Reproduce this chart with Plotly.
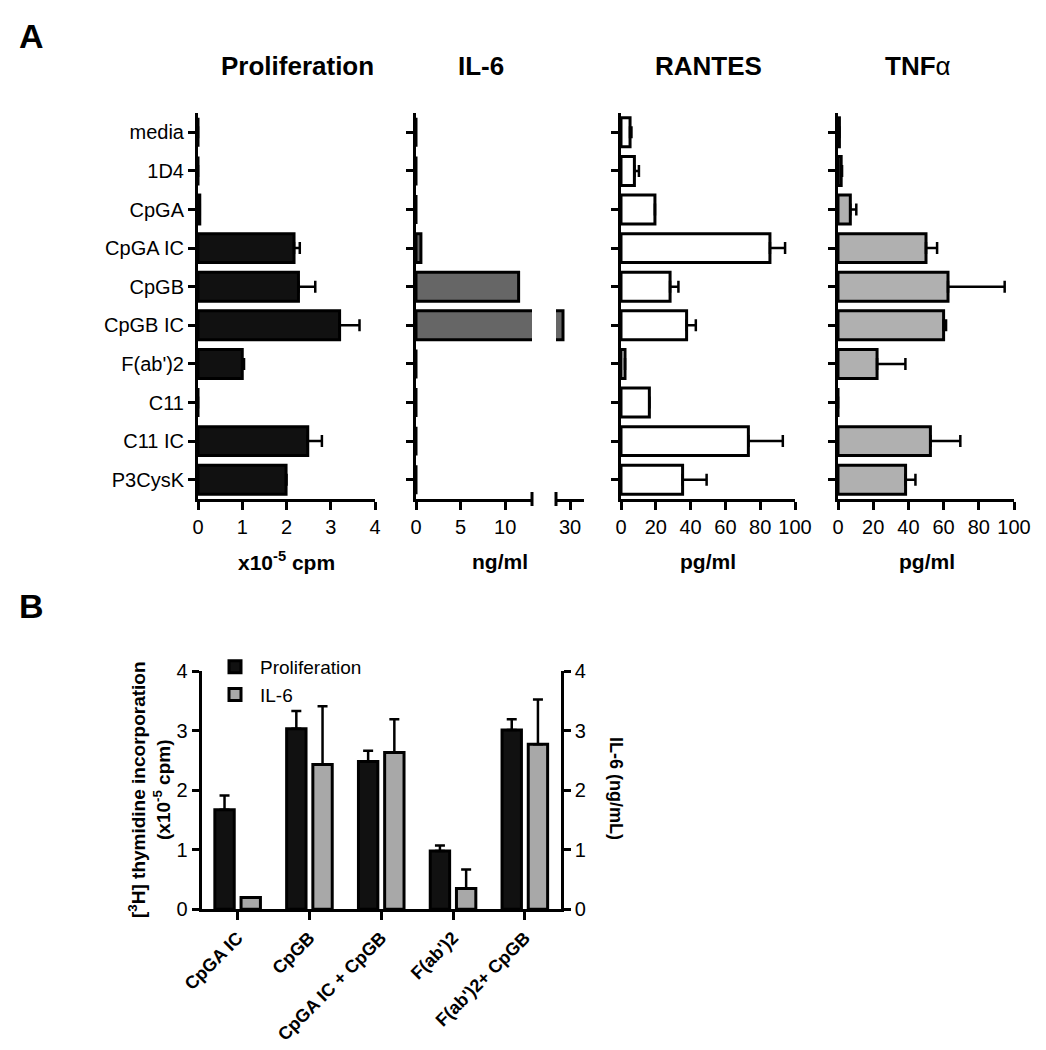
import plotly.graph_objects as go

W, H = 1046, 1050
FONT = "Arial, Liberation Sans, Helvetica, sans-serif"
OFF = 8  # page body margin

# ---------------- Data: panel A ----------------
categories = ["media", "1D4", "CpGA", "CpGA IC", "CpGB", "CpGB IC",
              "F(ab')2", "C11", "C11 IC", "P3CysK"]
prolif = [0.0, 0.0, 0.04, 2.17, 2.27, 3.20, 1.00, 0.0, 2.48, 1.99]
prolif_err = [0, 0, 0, 0.13, 0.38, 0.45, 0.04, 0, 0.32, 0.01]
il6 = [0.0, 0.0, 0.0, 0.55, 11.5, 27.5, 0.0, 0.0, 0.0, 0.0]
rantes = [5.2, 7.7, 19.5, 85.6, 28.2, 37.7, 2.3, 16.3, 73.2, 35.4]
rantes_err = [0.8, 2.6, 0, 8.7, 4.8, 5.3, 0, 0, 19.8, 13.8]
tnf = [0.8, 1.8, 7.0, 50.0, 62.5, 60.0, 22.2, 0.0, 52.5, 38.4]
tnf_err = [0, 0.5, 3.4, 6.3, 32.2, 1.4, 16.1, 0, 17.0, 5.6]

prolif_ticks = [0, 1, 2, 3, 4]
il6_ticks_low = [0, 5, 10]
il6_ticks_high = [30]
pg_ticks = [0, 20, 40, 60, 80, 100]

# ---------------- Data: panel B ----------------
b_categories = ["CpGA IC", "CpGB", "CpGA IC + CpGB", "F(ab')2", "F(ab')2+ CpGB"]
b_prolif = [1.67, 3.03, 2.48, 0.98, 3.01]
b_prolif_err = [0.24, 0.30, 0.18, 0.09, 0.18]
b_il6 = [0.20, 2.43, 2.63, 0.35, 2.77]
b_il6_err = [0, 0.98, 0.56, 0.32, 0.75]
b_ticks = [0, 1, 2, 3, 4]


def fx(px):
    return (px - OFF) / W


def fy(py):
    return 1 - (py - OFF) / H


fig = go.Figure()

LW = 3  # line width


def hbar(x, color, xa, ya, err=None, name=""):
    kw = {}
    if err is not None:
        kw["error_x"] = dict(type="data", symmetric=False, array=err,
                             arrayminus=[0] * len(err), color="black",
                             thickness=2.5, width=6)
    fig.add_trace(go.Bar(x=x, y=categories, orientation="h", name=name,
                         marker=dict(color=color, line=dict(color="black", width=LW)),
                         xaxis=xa, yaxis=ya, showlegend=False, **kw))


hbar(prolif, "#111111", "x", "y", prolif_err)
hbar(il6, "#666666", "x2", "y2")
hbar(il6, "#666666", "x3", "y2")
hbar(rantes, "#ffffff", "x4", "y3", rantes_err)
hbar(tnf, "#b0b0b0", "x5", "y4", tnf_err)

# Panel B bars
fig.add_trace(go.Bar(x=b_categories, y=b_prolif, name="Proliferation",
                     marker=dict(color="#111111", line=dict(color="black", width=LW)),
                     width=0.27, offset=-0.317,
                     error_y=dict(type="data", symmetric=False, array=b_prolif_err,
                                  arrayminus=[0] * 5, color="black", thickness=2.5, width=5),
                     xaxis="x6", yaxis="y5"))
fig.add_trace(go.Bar(x=b_categories, y=b_il6, name="IL-6",
                     marker=dict(color="#a8a8a8", line=dict(color="black", width=LW)),
                     width=0.27, offset=0.048,
                     error_y=dict(type="data", symmetric=False, array=b_il6_err,
                                  arrayminus=[0] * 5, color="black", thickness=2.5, width=5),
                     xaxis="x6", yaxis="y6"))

axis_common = dict(showline=True, linecolor="black", linewidth=LW, ticks="outside",
                   ticklen=8, tickwidth=LW, tickcolor="black", showgrid=False,
                   zeroline=False, tickfont=dict(family=FONT, size=20, color="black"),
                   fixedrange=True, automargin=False)

ydomA = [fy(499), fy(113)]
yA = dict(axis_common, type="category", categoryorder="array", categoryarray=categories,
          range=[9.5, -0.5], domain=ydomA, ticklen=7)

layout = dict(
    width=W, height=H, margin=dict(l=0, r=0, t=0, b=0, autoexpand=False),
    paper_bgcolor="white", plot_bgcolor="white",
    bargap=0.25, barmode="group",
    font=dict(family=FONT, color="black"),
    xaxis=dict(axis_common, domain=[fx(198), fx(375)], range=[0, 4],
               tickvals=prolif_ticks, anchor="y"),
    yaxis=dict(yA, anchor="x"),
    xaxis2=dict(axis_common, domain=[fx(416), fx(532)], range=[0, 13],
                tickvals=il6_ticks_low, anchor="y2"),
    yaxis2=dict(yA, anchor="x2", showticklabels=False),
    xaxis3=dict(axis_common, domain=[fx(556), fx(584)], range=[25, 35],
                tickvals=il6_ticks_high, anchor="y2"),
    xaxis4=dict(axis_common, domain=[fx(621), fx(795)], range=[0, 100],
                tickvals=pg_ticks, anchor="y3"),
    yaxis3=dict(yA, anchor="x4", showticklabels=False),
    xaxis5=dict(axis_common, domain=[fx(838), fx(1014)], range=[0, 100],
                tickvals=pg_ticks, anchor="y4"),
    yaxis4=dict(yA, anchor="x5", showticklabels=False),
    xaxis6=dict(axis_common, domain=[fx(201.7), fx(560.7)], type="category",
                categoryorder="array", categoryarray=b_categories, range=[-0.5, 4.5],
                tickangle=-45, anchor="y5",
                tickfont=dict(family=FONT, size=18, color="black", weight="bold")),
    yaxis5=dict(axis_common, domain=[fy(909.3), fy(671)], range=[0, 4],
                tickvals=b_ticks, anchor="x6", ticklen=7),
    yaxis6=dict(axis_common, domain=[fy(909.3), fy(671)], range=[0, 4],
                tickvals=b_ticks, anchor="x6", overlaying="y5", side="right", ticklen=7),
    legend=dict(x=fx(210), y=fy(648), xanchor="left", yanchor="top",
                font=dict(family=FONT, size=19, color="black"),
                bgcolor="rgba(0,0,0,0)", tracegroupgap=2, itemwidth=40),
)
fig.update_layout(**layout)

# Break marks on IL-6 axis
for xr, xv in [("x2 domain", 1), ("x3 domain", 0)]:
    fig.add_shape(type="line", xref=xr, yref="paper", x0=xv, x1=xv,
                  y0=fy(492), y1=fy(506), line=dict(color="black", width=LW))

ann = []


def text(x, y, t, size, bold=True, angle=0, xanchor="center"):
    ann.append(dict(x=fx(x), y=fy(y), xref="paper", yref="paper", text=t,
                    showarrow=False, textangle=angle, xanchor=xanchor, yanchor="middle",
                    font=dict(family=FONT, size=size, color="black",
                              weight="bold" if bold else "normal")))


text(31, 36, "A", 34)
text(31, 606, "B", 34)
text(297, 66, "Proliferation", 26)
text(481, 66, "IL-6", 26)
text(708, 66, "RANTES", 26)
text(918, 66, "<b>TNF</b>α", 26, bold=False)
text(286, 561, "x10<sup>-5</sup> cpm", 21)
text(500, 561, "ng/ml", 21)
text(708, 561, "pg/ml", 21)
text(927, 561, "pg/ml", 21)
text(149, 790, "[<sup>3</sup>H] thymidine incorporation<br>(x10<sup>-5</sup> cpm)", 19, angle=-90)
text(616, 788, "IL-6 (ng/mL)", 18, angle=90)

fig.update_layout(annotations=ann)
fig.write_html("out.html")
